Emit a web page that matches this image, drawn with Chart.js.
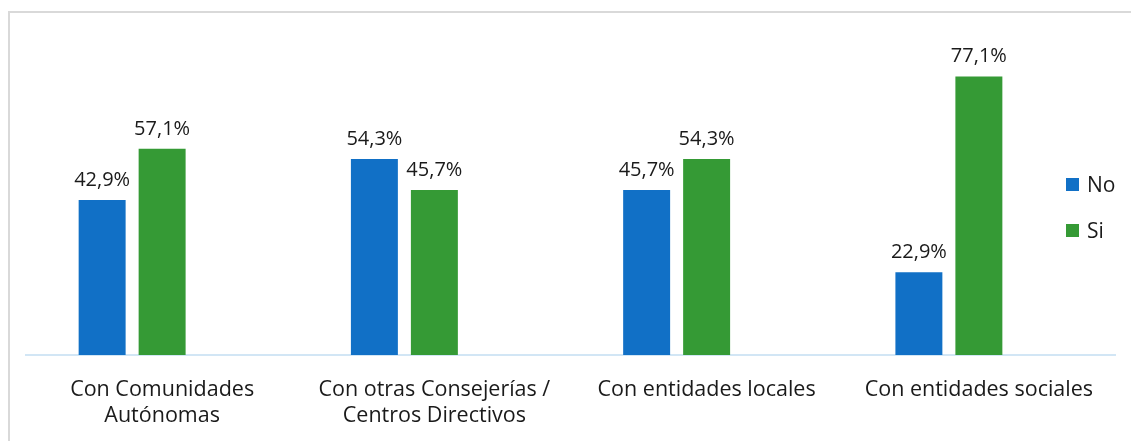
<!DOCTYPE html>
<html lang="es">
<head>
<meta charset="utf-8">
<script src="https://cdn.jsdelivr.net/npm/chart.js@4/dist/chart.umd.min.js"></script>
<style>
  html, body { margin: 0; padding: 0; background: #fff; }
  body { width: 1131px; height: 441px; position: relative; overflow: hidden; font-family: "Open Sans", sans-serif; }
  #marco { position: absolute; left: 8px; top: 11px; width: 1200px; height: 500px; border: 2px solid #d9d9d9; box-sizing: border-box; }
  #wrap { position: absolute; left: 0; top: 0; width: 1131px; height: 441px; }
  #leyenda { position: absolute; left: 1066px; top: 161px; }
  .ley-item { display: flex; align-items: center; height: 46px; font-size: 21px; color: #1a1a1a; }
  .ley-item span.cuadro { width: 13px; height: 13px; margin-right: 8px; display: inline-block; }
</style>
</head>
<body>
<div id="marco"></div>
<div id="wrap"><canvas id="grafico" width="1131" height="441"></canvas></div>
<div id="leyenda"></div>
<script>
/* ══════════════════════════════════
   DATOS
══════════════════════════════════ */
const categorias = [
  ['Con Comunidades', 'Autónomas'],
  ['Con otras Consejerías /', 'Centros Directivos'],
  'Con entidades locales',
  'Con entidades sociales'
];
const valoresNo = [42.9, 54.3, 45.7, 22.9];
const valoresSi = [57.1, 45.7, 54.3, 77.1];
// the original keeps a third, empty slot in every group (bars sit left of the label)
const huecoVacio = [null, null, null, null];

const colorNo = '#1170c6';
const colorSi = '#359a35';

/* ══════════════════════════════════
   ETIQUETAS SOBRE LAS BARRAS
══════════════════════════════════ */
const etiquetas = {
  id: 'etiquetas',
  afterDatasetsDraw(chart) {
    const ctx = chart.ctx;
    ctx.save();
    ctx.font = '20px "Open Sans"';
    ctx.fillStyle = '#1a1a1a';
    ctx.textAlign = 'center';
    ctx.textBaseline = 'bottom';
    chart.data.datasets.forEach((ds, i) => {
      if (ds.vacio) return;
      chart.getDatasetMeta(i).data.forEach((bar, j) => {
        const v = ds.data[j];
        if (v == null) return;
        ctx.fillText(v.toFixed(1).replace('.', ',') + '%', bar.x, bar.y - 10);
      });
    });
    ctx.restore();
  }
};

const chart = new Chart(document.getElementById('grafico'), {
  type: 'bar',
  data: {
    labels: categorias,
    datasets: [
      { label: 'No', data: valoresNo, backgroundColor: colorNo },
      { label: 'Si', data: valoresSi, backgroundColor: colorSi },
      { label: '', data: huecoVacio, backgroundColor: 'transparent', vacio: true }
    ]
  },
  options: {
    responsive: false,
    animation: false,
    layout: { padding: { left: 26, right: 16, top: 30, bottom: 0 } },
    datasets: { bar: { categoryPercentage: 0.661, barPercentage: 0.783 } },
    scales: {
      x: {
        grid: { display: false },
        border: { color: '#d2e6f5', width: 2 },
        ticks: { font: { size: 21.5, family: 'Open Sans', lineHeight: 1.22 }, color: '#1a1a1a', padding: 14, maxRotation: 0, autoSkip: false },
        afterFit(scale) { scale.height = 86; }
      },
      y: { display: false, min: 0, max: 90 }
    },
    plugins: { legend: { display: false }, tooltip: { enabled: false } }
  },
  plugins: [etiquetas]
});

/* ══════════════════════════════════
   LEYENDA
══════════════════════════════════ */
const ley = document.getElementById('leyenda');
chart.data.datasets.filter(d => !d.vacio).forEach(d => {
  const it = document.createElement('div');
  it.className = 'ley-item';
  it.innerHTML = `<span class="cuadro" style="background:${d.backgroundColor}"></span>${d.label}`;
  ley.appendChild(it);
});
</script>
</body>
</html>
